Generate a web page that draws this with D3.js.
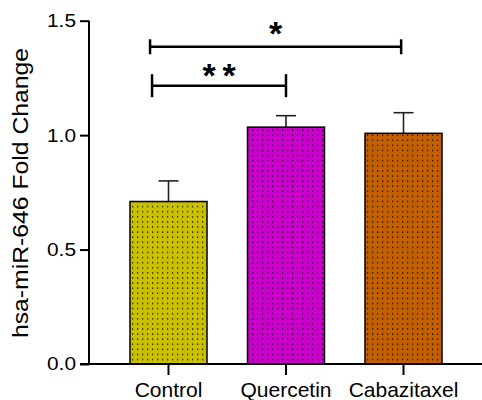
<!DOCTYPE html>
<html>
<head>
<meta charset="utf-8">
<script src="https://cdn.jsdelivr.net/npm/d3@7"></script>
<style>
  html, body { margin: 0; padding: 0; background: #fff; }
  svg { display: block; }
  text { font-family: Arial, "Liberation Sans", Helvetica, sans-serif; fill: #000; }
</style>
</head>
<body>
<svg id="chart" width="482" height="400"></svg>
<script>
// ---- data ----
const categories = ["Control", "Quercetin", "Cabazitaxel"];
const means = [0.71, 1.035, 1.008];
const errors = [0.09, 0.05, 0.09];
const barColors = ["#c8c000", "#cc00cc", "#c25f00"];
const yTicks = [0.0, 0.5, 1.0, 1.5];
const yTitle = "hsa-miR-646 Fold Change";
// significance brackets: from / to (category position), level (data units), label
const bracketFrom = [-0.14, -0.157];
const bracketTo = [1.0, 1.98];
const bracketLevel = [1.216, 1.386];
const bracketLabel = ["**", "*"];

// ---- layout ----
const svg = d3.select("#chart");
const y = d3.scaleLinear().domain([0, 1.5]).range([364, 20.7]);
const xi = d3.scaleLinear().domain([0, 2]).range([168.5, 403.5]);
const barW = 77;

// dotted pattern per colour
const defs = svg.append("defs");
barColors.forEach((c, i) => {
  const p = defs.append("pattern")
    .attr("id", "dots" + i)
    .attr("patternUnits", "userSpaceOnUse")
    .attr("width", 5).attr("height", 5.1);
  p.append("rect").attr("width", 5).attr("height", 5.1).attr("fill", c);
  p.append("rect").attr("x", 2).attr("y", 2).attr("width", 1.2).attr("height", 1.2).attr("fill", "#000");
});

// error bars
const eb = svg.append("g").attr("stroke", "#222").attr("stroke-width", 1.6).attr("fill", "none");
categories.forEach((c, i) => {
  const cx = xi(i);
  eb.append("line").attr("x1", cx).attr("x2", cx).attr("y1", y(means[i])).attr("y2", y(means[i] + errors[i]));
  eb.append("line").attr("x1", cx - 10).attr("x2", cx + 10).attr("y1", y(means[i] + errors[i])).attr("y2", y(means[i] + errors[i]));
});

// bars
svg.append("g").selectAll("rect").data(categories).join("rect")
  .attr("x", (d, i) => xi(i) - barW / 2)
  .attr("y", (d, i) => y(means[i]))
  .attr("width", barW)
  .attr("height", (d, i) => y(0) - y(means[i]))
  .attr("fill", (d, i) => "url(#dots" + i + ")")
  .attr("stroke", "#000")
  .attr("stroke-width", 1.5);

// y axis
const yAxis = svg.append("g").attr("transform", "translate(89,0)")
  .call(d3.axisLeft(y).tickValues(yTicks).tickFormat(d3.format(".1f")).tickSize(9).tickPadding(4));
yAxis.select(".domain").attr("stroke-width", 2).attr("d", `M0,${y(1.5)}V${y(0)}`);
yAxis.selectAll(".tick line").attr("stroke-width", 2);
yAxis.selectAll(".tick text").attr("font-size", 18.5).attr("fill", "#000")
  .attr("textLength", 29).attr("lengthAdjust", "spacingAndGlyphs");

// x axis
const xAxisG = svg.append("g");
xAxisG.append("line").attr("x1", 80).attr("x2", 482).attr("y1", y(0)).attr("y2", y(0))
  .attr("stroke", "#000").attr("stroke-width", 2);
xAxisG.selectAll("line.tk").data(categories).join("line").attr("class", "tk")
  .attr("x1", (d, i) => xi(i)).attr("x2", (d, i) => xi(i))
  .attr("y1", y(0)).attr("y2", y(0) + 11)
  .attr("stroke", "#000").attr("stroke-width", 2);
xAxisG.selectAll("text").data(categories).join("text")
  .attr("x", (d, i) => xi(i)).attr("y", 397)
  .attr("text-anchor", "middle").attr("font-size", 21)
  .text(d => d);

// y title
svg.append("text")
  .attr("transform", `translate(28,${193}) rotate(-90)`)
  .attr("text-anchor", "middle").attr("font-size", 22.5)
  .attr("textLength", 290).attr("lengthAdjust", "spacingAndGlyphs")
  .text(yTitle);

// significance brackets
const br = svg.append("g").attr("stroke", "#000").attr("stroke-width", 2.5).attr("fill", "none");
const tickH = [11.5, 7.5];
bracketLevel.forEach((lv, k) => {
  const x1 = xi(bracketFrom[k]), x2 = xi(bracketTo[k]), yy = y(lv);
  br.append("line").attr("x1", x1).attr("x2", x2).attr("y1", yy).attr("y2", yy);
  br.append("line").attr("x1", x1).attr("x2", x1).attr("y1", yy - tickH[k]).attr("y2", yy + tickH[k]);
  br.append("line").attr("x1", x2).attr("x2", x2).attr("y1", yy - tickH[k]).attr("y2", yy + tickH[k]);
});
// star labels
const starLift = [19, 21.5];
bracketLabel.forEach((lab, k) => {
  const mid = (xi(bracketFrom[k]) + xi(bracketTo[k])) / 2;
  const cxs = lab.length === 2 ? [mid - 10, mid + 10] : [mid];
  cxs.forEach(cx => {
    svg.append("text")
      .attr("x", cx).attr("y", y(bracketLevel[k]) - starLift[k] + 20)
      .attr("text-anchor", "middle").attr("font-size", 34).attr("font-weight", "bold")
      .text("*");
  });
});
</script>
</body>
</html>
